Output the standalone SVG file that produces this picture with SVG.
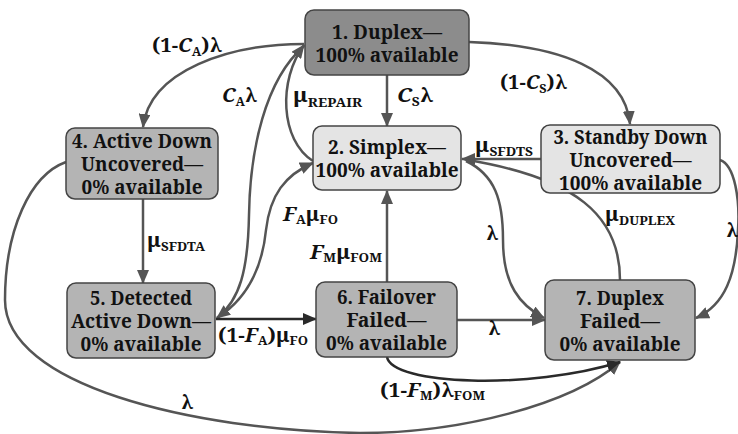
<svg xmlns="http://www.w3.org/2000/svg" width="738" height="434" viewBox="0 0 738 434">
<style>
.node rect{stroke:#444;stroke-width:1.5}
.dark{fill:#8c8c8c}
.mid{fill:#b4b4b4}
.light{fill:#e4e4e4}
.nt{font-weight:bold;font-size:20px;fill:#111;text-anchor:middle}
.lb{font-weight:bold;font-size:20px;fill:#111}
.sub{font-size:12.5px}
.it{font-style:italic}
.e{fill:none;stroke:#555;stroke-width:2.5}
.k{fill:none;stroke:#2a2a2a;stroke-width:2.5}
</style>
<defs>
<marker id="ah" markerUnits="userSpaceOnUse" markerWidth="14" markerHeight="12" viewBox="0 0 14 12" refX="13" refY="6" orient="auto"><path d="M0,0 L14,6 L0,12 z" fill="#555"/></marker>
<marker id="ahk" markerUnits="userSpaceOnUse" markerWidth="14" markerHeight="12" viewBox="0 0 14 12" refX="13" refY="6" orient="auto"><path d="M0,0 L14,6 L0,12 z" fill="#2a2a2a"/></marker>
</defs>
<g id="connectors">
<path class="e" d="M304,44 C230,44 150,70 143,127" marker-end="url(#ah)"/>
<path class="e" d="M304,46 C265,80 250,150 249,215 C248,270 240,300 217,318" marker-end="url(#ah)"/>
<path class="e" d="M313,161 C280,140 278,80 304,45" marker-end="url(#ah)"/>
<path class="e" d="M217,318 C245,300 262,270 266,230 C270,195 285,175 313,163" marker-end="url(#ah)"/>
<path class="e" d="M387,75 L387,126" marker-end="url(#ah)"/>
<path class="e" d="M469,42 C560,45 625,70 630,124" marker-end="url(#ah)"/>
<path class="e" d="M541,159 L462,159" marker-end="url(#ah)"/>
<path class="e" d="M143,199 L143,283" marker-end="url(#ah)"/>
<path class="k" d="M216,319 L316,319" marker-end="url(#ahk)"/>
<path class="e" d="M387,282 L387,191" marker-end="url(#ah)"/>
<path class="e" d="M457,320 L545,320" marker-end="url(#ah)"/>
<path class="e" d="M466,161 C495,175 503,200 503,240 C503,285 520,305 544,318" marker-end="url(#ah)"/>
<path class="e" d="M620,280 C620,215 575,178 468,160"/>
<path class="e" d="M720,160 C735,165 740,200 738,230 C736,275 725,305 696,318" marker-end="url(#ah)"/>
<path class="e" d="M66,162 C30,175 5,230 5,300 C5,385 190,430 360,433 C460,433 570,405 620,362" marker-end="url(#ah)"/>
<path class="k" d="M387,357 C392,385 530,390 620,362" marker-end="url(#ahk)"/>
</g>
<g font-family="Noto Serif, DejaVu Serif, serif">
<g id="n1" class="node"><rect class="dark" x="305" y="10" width="164" height="65" rx="9"/><text class="nt" x="387" y="38.5" textLength="110" lengthAdjust="spacingAndGlyphs">1. Duplex—</text><text class="nt" x="387" y="61.5" textLength="143" lengthAdjust="spacingAndGlyphs">100% available</text></g>
<g id="n2" class="node"><rect class="light" x="313" y="126" width="148" height="64" rx="9"/><text class="nt" x="387" y="154" textLength="118" lengthAdjust="spacingAndGlyphs">2. Simplex—</text><text class="nt" x="387" y="177" textLength="143" lengthAdjust="spacingAndGlyphs">100% available</text></g>
<g id="n3" class="node"><rect class="light" x="541" y="125" width="179" height="68" rx="9"/><text class="nt" x="630.5" y="143.5" textLength="154" lengthAdjust="spacingAndGlyphs">3. Standby Down</text><text class="nt" x="630.5" y="166.5" textLength="122" lengthAdjust="spacingAndGlyphs">Uncovered—</text><text class="nt" x="630.5" y="189.5" textLength="143" lengthAdjust="spacingAndGlyphs">100% available</text></g>
<g id="n4" class="node"><rect class="mid" x="66" y="128" width="152" height="71" rx="9"/><text class="nt" x="142" y="148" textLength="140" lengthAdjust="spacingAndGlyphs">4. Active Down</text><text class="nt" x="142" y="171" textLength="122" lengthAdjust="spacingAndGlyphs">Uncovered—</text><text class="nt" x="142" y="194" textLength="121" lengthAdjust="spacingAndGlyphs">0% available</text></g>
<g id="n5" class="node"><rect class="mid" x="67" y="283" width="148" height="75" rx="9"/><text class="nt" x="141" y="305" textLength="102" lengthAdjust="spacingAndGlyphs">5. Detected</text><text class="nt" x="141" y="328" textLength="140" lengthAdjust="spacingAndGlyphs">Active Down—</text><text class="nt" x="141" y="351" textLength="121" lengthAdjust="spacingAndGlyphs">0% available</text></g>
<g id="n6" class="node"><rect class="mid" x="316" y="282" width="141" height="75" rx="9"/><text class="nt" x="386.5" y="304" textLength="99" lengthAdjust="spacingAndGlyphs">6. Failover</text><text class="nt" x="386.5" y="327" textLength="80" lengthAdjust="spacingAndGlyphs">Failed—</text><text class="nt" x="386.5" y="350" textLength="121" lengthAdjust="spacingAndGlyphs">0% available</text></g>
<g id="n7" class="node"><rect class="mid" x="545" y="280" width="150" height="80" rx="9"/><text class="nt" x="620" y="304.5" textLength="88" lengthAdjust="spacingAndGlyphs">7. Duplex</text><text class="nt" x="620" y="327.5" textLength="80" lengthAdjust="spacingAndGlyphs">Failed—</text><text class="nt" x="620" y="350.5" textLength="121" lengthAdjust="spacingAndGlyphs">0% available</text></g>
<g id="labels">
<text class="lb" x="152" y="52" textLength="70" lengthAdjust="spacingAndGlyphs">(1-<tspan class="it">C</tspan><tspan class="sub" dy="4">A</tspan><tspan dy="-4">)λ</tspan></text>
<text class="lb" x="222" y="102" textLength="35" lengthAdjust="spacingAndGlyphs"><tspan class="it">C</tspan><tspan class="sub" dy="4">A</tspan><tspan dy="-4">λ</tspan></text>
<text class="lb" x="293" y="102" textLength="69" lengthAdjust="spacingAndGlyphs">μ<tspan class="sub" dy="5">REPAIR</tspan></text>
<text class="lb" x="397" y="102" textLength="36" lengthAdjust="spacingAndGlyphs"><tspan class="it">C</tspan><tspan class="sub" dy="4">S</tspan><tspan dy="-4">λ</tspan></text>
<text class="lb" x="500" y="89" textLength="67" lengthAdjust="spacingAndGlyphs">(1-<tspan class="it">C</tspan><tspan class="sub" dy="4">S</tspan><tspan dy="-4">)λ</tspan></text>
<text class="lb" x="475" y="152" textLength="58" lengthAdjust="spacingAndGlyphs">μ<tspan class="sub" dy="4">SFDTS</tspan></text>
<text class="lb" x="147" y="247" textLength="58" lengthAdjust="spacingAndGlyphs">μ<tspan class="sub" dy="4">SFDTA</tspan></text>
<text class="lb" x="283" y="221" textLength="55" lengthAdjust="spacingAndGlyphs"><tspan class="it">F</tspan><tspan class="sub" dy="3">A</tspan><tspan dy="-3">μ</tspan><tspan class="sub" dy="3">FO</tspan></text>
<text class="lb" x="310" y="259" textLength="72" lengthAdjust="spacingAndGlyphs"><tspan class="it">F</tspan><tspan class="sub" dy="3">M</tspan><tspan dy="-3">μ</tspan><tspan class="sub" dy="3">FOM</tspan></text>
<text class="lb" x="218" y="342" textLength="90" lengthAdjust="spacingAndGlyphs">(1-<tspan class="it">F</tspan><tspan class="sub" dy="3">A</tspan><tspan dy="-3">)μ</tspan><tspan class="sub" dy="3">FO</tspan></text>
<text class="lb" x="488" y="335">λ</text>
<text class="lb" x="486" y="240">λ</text>
<text class="lb" x="605" y="221" textLength="70" lengthAdjust="spacingAndGlyphs">μ<tspan class="sub" dy="4">DUPLEX</tspan></text>
<text class="lb" x="726" y="237">λ</text>
<text class="lb" x="380" y="397" textLength="105" lengthAdjust="spacingAndGlyphs">(1-<tspan class="it">F</tspan><tspan class="sub" dy="3">M</tspan><tspan dy="-3">)λ</tspan><tspan class="sub" dy="3">FOM</tspan></text>
<text class="lb" x="181" y="409">λ</text>
</g>
</g>
</svg>
